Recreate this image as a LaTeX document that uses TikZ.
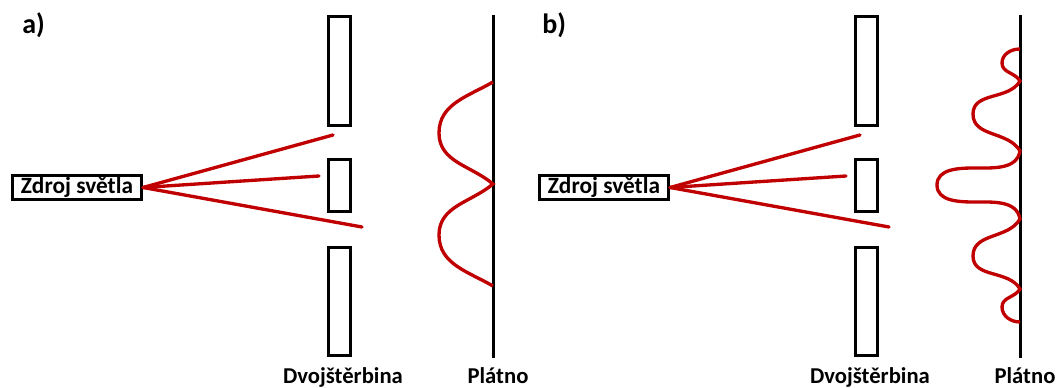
\documentclass[tikz,border=0pt]{standalone}
\usepackage{fontspec}
\setmainfont{Carlito}
\definecolor{raycol}{HTML}{C00000}
\tikzset{
  wall/.style={draw=black,line width=2.3pt},
  ray/.style={draw=raycol,line width=2.5pt,line cap=round},
  lbl/.style={font=\fontsize{17}{20}\selectfont\bfseries,inner sep=0pt},
  tag/.style={font=\fontsize{21}{24}\selectfont\bfseries,inner sep=0pt,anchor=base west},
  srcbox/.style={wall,lbl,font=\fontsize{17.5}{20}\selectfont\bfseries,minimum width=96.75pt,minimum height=18pt}
}
\begin{document}
\begin{tikzpicture}[x=0.75pt,y=0.75pt]
  \useasboundingbox (0,0) rectangle (1059,-388);
  % panel letters
  \node[tag] (tagA) at (22,-34) {a)};
  \node[tag] (tagB) at (542,-34) {b)};
  %%%% parts shared by both panels
  \foreach \p/\dx in {a/0,b/527}
  {
    % the source
    \node[srcbox] (src\p) at ({\dx+77},-187.5) {Zdroj světla};
    % the double slit
    \foreach \t/\b in {16.5/125.5,159.5/211.5,247.5/355.5}
      \draw[wall] ({\dx+328.5},-\t) rectangle ({\dx+350.5},-\b);
    % the screen
    \coordinate (scrtop\p) at ({\dx+493.5},-15);
    \coordinate (scrbot\p) at ({\dx+493.5},-358);
    \draw[wall] (scrtop\p) -- (scrbot\p);
    % the rays
    \coordinate (rayup\p) at ({\dx+333},-135);
    \coordinate (raymid\p) at ({\dx+319},-176);
    \coordinate (raydn\p) at ({\dx+362},-227);
    \draw[ray] (src\p.east) -- (rayup\p);
    \draw[ray] (src\p.east) -- (raymid\p);
    \draw[ray] (src\p.east) -- (raydn\p);
    % labels below
    \node[lbl,anchor=base] (slitlbl\p) at ({\dx+343},-383) {Dvojštěrbina};
    \node[lbl,anchor=base] (scrlbl\p) at ({\dx+498},-383) {Plátno};
  }
  %%%% pattern a: two humps
  \draw[ray,line cap=butt] (493,-82) to[out=-150,in=90] (439,-133)
    to[out=-90,in=140] (493,-184) to[out=-140,in=90] (439,-235)
    to[out=-90,in=150] (493,-286);
  %%%% pattern b: fringes
  \draw[ray,line cap=butt] (1020,-49) to[out=180,in=90] (1002,-63)
    to[out=-90,in=120] (1020,-81) to[out=-120,in=90] (973,-114)
    to[out=-90,in=120] (1020,-151) to[out=-100,in=0] (975,-168)
    to[out=180,in=90] (937,-185) to[out=-90,in=180] (975,-202)
    to[out=0,in=100] (1020,-219) to[out=-120,in=90] (973,-256)
    to[out=-90,in=120] (1020,-289) to[out=-120,in=90] (1002,-307)
    to[out=-90,in=180] (1020,-322);
\end{tikzpicture}
\end{document}
